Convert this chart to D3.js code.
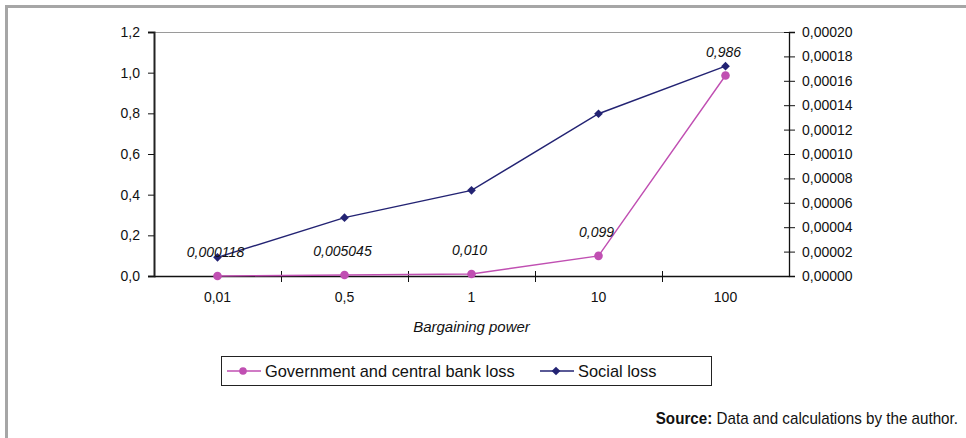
<!DOCTYPE html>
<html>
<head>
<meta charset="utf-8">
<script src="https://cdn.jsdelivr.net/npm/d3@7"></script>
<style>
  body { margin: 0; background: #fff; }
  svg { display: block; font-family: "Liberation Sans", Arial, sans-serif; }
</style>
</head>
<body>
<svg id="chart" width="966" height="438"></svg>
<script>
// data
var categories = ['0,01', '0,5', '1', '10', '100'];
var govLoss = [0.000118, 0.005045, 0.010, 0.099, 0.986];
var govLabels = ['0,000118', '0,005045', '0,010', '0,099', '0,986'];
var socialLoss = [0.0000153, 0.0000478, 0.0000702, 0.000133, 0.000172];
var leftTicks = [0, 0.2, 0.4, 0.6, 0.8, 1.0, 1.2];
var rightTicks = [0, 0.00002, 0.00004, 0.00006, 0.00008, 0.0001, 0.00012, 0.00014, 0.00016, 0.00018, 0.0002];
var seriesNames = ['Government and central bank loss', 'Social loss'];

var pink = '#c04fb2';
var navy = '#232373';

var loc = d3.formatLocale({decimal: ',', thousands: '.', grouping: [3], currency: ['', '']});

var svg = d3.select('#chart');
// plot box (window.top is taken, so own names)
var pL = 154, pR = 789, pT = 32, pB = 276;

// outer frame (runs off the page to the right and bottom)
svg.append('rect')
  .attr('x', 6.5).attr('y', 6.5)
  .attr('width', 980).attr('height', 460)
  .attr('fill', 'none').attr('stroke', '#a6a6a6').attr('stroke-width', 3);

var x = d3.scaleBand().domain(categories).range([pL, pR]);
var yL = d3.scaleLinear().domain([0, 1.2]).range([pB, pT]);
var yR = d3.scaleLinear().domain([0, 0.0002]).range([pB, pT]);

// top border of plot area
svg.append('line')
  .attr('x1', pL).attr('x2', pR).attr('y1', pT + 0.5).attr('y2', pT + 0.5)
  .attr('stroke', '#9a9a9a').attr('stroke-width', 1);

var axL = svg.append('g')
  .attr('transform', 'translate(' + pL + ',0)')
  .call(d3.axisLeft(yL).tickValues(leftTicks).tickFormat(loc.format('.1f')).tickSize(6).tickPadding(8));
axL.select('.domain').attr('stroke', '#222').attr('stroke-width', 2);

var axR = svg.append('g')
  .attr('transform', 'translate(' + pR + ',0)')
  .call(d3.axisRight(yR).tickValues(rightTicks).tickFormat(loc.format('.5f')).tickSize(6).tickPadding(7));
axR.select('.domain').attr('stroke', '#111').attr('stroke-width', 1.3);
axR.selectAll('.tick line').attr('x1', -5);

// x axis
var axB = svg.append('g')
  .attr('transform', 'translate(0,' + pB + ')')
  .call(d3.axisBottom(x).tickSize(0).tickPadding(16));
axB.select('.domain').attr('stroke', '#111').attr('stroke-width', 1.3);

[axL, axR, axB].forEach(function (a) {
  a.attr('font-size', 14).attr('font-family', '"Liberation Sans", Arial, sans-serif');
  a.selectAll('text').attr('fill', '#111');
  a.selectAll('.tick line').attr('stroke', '#111');
});

// category boundary ticks
var bounds = categories.slice(1).map(function (c) { return x(c); });
axB.selectAll('.bt').data(bounds).enter().append('line')
  .attr('x1', function (d) { return Math.round(d) + 0.5; })
  .attr('x2', function (d) { return Math.round(d) + 0.5; })
  .attr('y1', -5).attr('y2', 6)
  .attr('stroke', '#111');

svg.append('text')
  .attr('x', (pL + pR) / 2).attr('y', 332)
  .attr('text-anchor', 'middle')
  .attr('font-size', 15).attr('font-style', 'italic').attr('fill', '#111')
  .text('Bargaining power');

var cx = function (d, i) { return x(categories[i]) + x.bandwidth() / 2; };

// Social loss (right axis)
svg.append('path')
  .datum(socialLoss)
  .attr('fill', 'none').attr('stroke', navy).attr('stroke-width', 1.4)
  .attr('d', d3.line().x(cx).y(function (d) { return yR(d); }));

// Government and central bank loss (left axis)
svg.append('path')
  .datum(govLoss)
  .attr('fill', 'none').attr('stroke', pink).attr('stroke-width', 1.4)
  .attr('d', d3.line().x(cx).y(function (d) { return yL(d); }));

// square turned 45deg, like the excel marker
var diamond = d3.symbol().type(d3.symbolSquare).size(38);

svg.selectAll('.sm').data(socialLoss).enter().append('path')
  .attr('d', diamond)
  .attr('transform', function (d, i) { return 'translate(' + cx(d, i) + ',' + yR(d) + ') rotate(45)'; })
  .attr('fill', navy);

svg.selectAll('.gm').data(govLoss).enter().append('circle')
  .attr('cx', cx).attr('cy', function (d) { return yL(d); })
  .attr('r', 4.3)
  .attr('fill', pink);

svg.selectAll('.gl').data(govLoss).enter().append('text')
  .attr('x', function (d, i) { return cx(d, i) - 2; })
  .attr('y', function (d) { return yL(d) - 19; })
  .attr('text-anchor', 'middle')
  .attr('font-size', 14).attr('font-style', 'italic').attr('fill', '#111')
  .text(function (d, i) { return govLabels[i]; });

// legend
var lg = svg.append('g');
lg.append('rect')
  .attr('x', 221.5).attr('y', 356.5).attr('width', 490).attr('height', 29)
  .attr('fill', '#fff').attr('stroke', '#222').attr('stroke-width', 1);

var legendItems = [
  {name: seriesNames[0], color: pink, shape: 'circle', x0: 227},
  {name: seriesNames[1], color: navy, shape: 'diamond', x0: 540}
];
legendItems.forEach(function (it) {
  var g = lg.append('g').attr('transform', 'translate(' + it.x0 + ',371)');
  g.append('line').attr('x1', 0).attr('x2', 34).attr('y1', 0).attr('y2', 0)
    .attr('stroke', it.color).attr('stroke-width', 1.4);
  if (it.shape === 'circle') {
    g.append('circle').attr('cx', 16).attr('cy', 0).attr('r', 3.8).attr('fill', it.color);
  } else {
    g.append('path').attr('d', diamond).attr('transform', 'translate(16,0) rotate(45)').attr('fill', it.color);
  }
  g.append('text').attr('x', 38).attr('y', 6)
    .attr('font-size', 16.4).attr('fill', '#111')
    .text(it.name);
});

// source note, squeezed a little like the narrow font in the original
var src = svg.append('text')
  .attr('transform', 'translate(958,424) scale(0.95,1)')
  .attr('text-anchor', 'end')
  .attr('font-size', 16).attr('fill', '#111');
src.append('tspan').attr('font-weight', 'bold').text('Source:');
src.append('tspan').text(' Data and calculations by the author.');
</script>
</body>
</html>
